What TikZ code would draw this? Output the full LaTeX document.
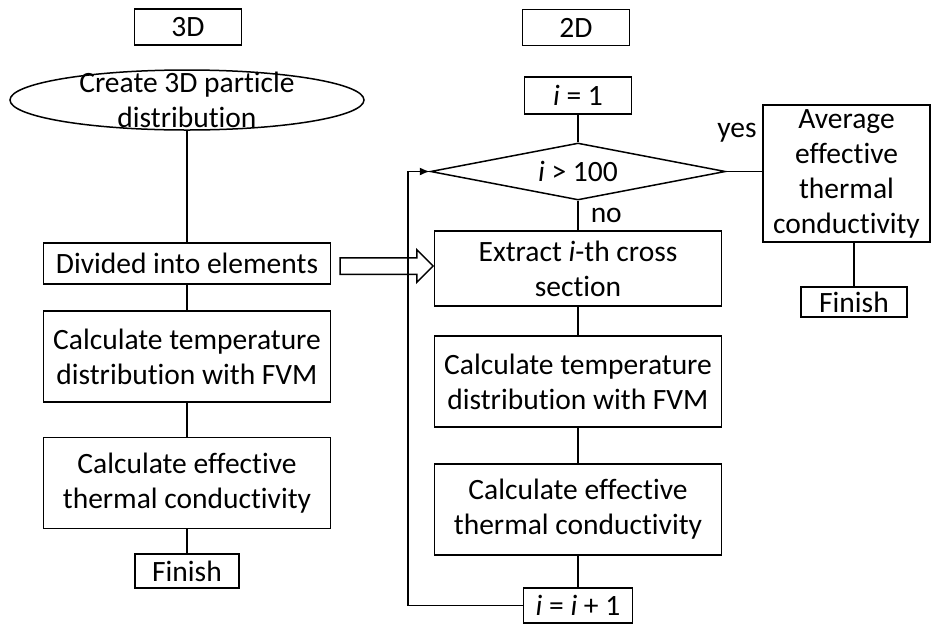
\documentclass[tikz,border=0pt]{standalone}
\usepackage{fontspec}
\setmainfont{Carlito}[Ligatures=NoCommon]
\usetikzlibrary{arrows.meta,shapes.geometric,shapes.arrows,calc}

\begin{document}
\begin{tikzpicture}
	[
	 x = 1pt, y = -1pt,
	 line width = 1.5pt,
	 every node/.style = {shape=rectangle,
	                      draw,
	                      align=center,
	                      line width = 1.5pt,
	                      font=\fontsize{29.5}{35}\selectfont,
	                      inner sep = 0pt
	                     },
	 Wide/.style = {minimum width = 287pt,
	                minimum height = 91pt},
	 Tag/.style  = {minimum width = 107pt,
	                minimum height = 36pt},
	 YN/.style   = {draw = none,
	                pos = .5}
	]
	
	\newcommand{\CT}{Calculate temperature\\distribution with FVM}
	\newcommand{\CE}{Calculate effective\\thermal conductivity}
	
	\useasboundingbox (0,0) rectangle (931,625);
	
	\node [Tag] (T3) at (188,27) {3D};
	\node [Tag] (T2) at (576,27.5) {2D};
	
	\node [ellipse, minimum width = 354pt, minimum height = 60pt,
	       inner ysep = -12pt] (A) at (187,100) {Create 3D particle\\distribution};
	\node [Wide, minimum height = 41pt] (B1) at (187,263.5) {Divided into elements};
	\node [Wide] (B2) at (187,356.5) {\CT};
	\node [Wide] (B3) at (187,483) {\CE};
	\node [Tag, minimum width = 104pt, minimum height = 34pt] (B4) at (187,571) {Finish};
	
	\node [Tag, minimum height = 37pt] (C0) at (578,95.5) {\textit{i} = 1};
	\node [diamond, aspect = 5.2, minimum width = 295pt, minimum height = 57pt]
	      (D) at (578,171.5) {\textit{i} > 100};
	\node [Wide, minimum height = 75pt] (C1) at (578,268.5) {Extract \textit{i}-th cross\\section};
	\node [Wide] (C2) at (578,381.5) {\CT};
	\node [Wide] (C3) at (578,509.5) {\CE};
	\node [Tag, minimum width = 109pt, minimum height = 35pt] (C4) at (578,605.5) {\textit{i} = \textit{i} + 1};
	
	\node [minimum width = 167pt, minimum height = 137pt] (E) at (846.5,173.5)
	      {Average\\effective\\thermal\\conductivity};
	\node [Tag, minimum width = 106pt, minimum height = 30pt] (F) at (854,302) {Finish};
	
	\node [single arrow, minimum height = 93pt, minimum width = 31pt,
	       inner sep = 7.5pt, single arrow head extend = 8pt]
	      (H) at ($(B1.east)!.5!(C1.west)$) {};
	
	\draw (A)  -- (B1);
	\draw (B1) -- (B2);
	\draw (B2) -- (B3);
	\draw (B3) -- (B4);
	
	\draw (C0) -- (D);
	\draw (D)  -- (C1) node [YN, right = 12pt] {no};
	\draw (C1) -- (C2);
	\draw (C2) -- (C3);
	\draw (C3) -- (C4);
	\draw [-{Latex[length = 10pt, width = 8pt]}] (C4.west) -- ++(-115,0) |- (D.west);
	
	\draw (D.east) -- (D.east -| E.west) node [YN, pos = .3, above = 29pt] {yes};
	\draw (F) -- (F |- E.south);
\end{tikzpicture}
\end{document}
